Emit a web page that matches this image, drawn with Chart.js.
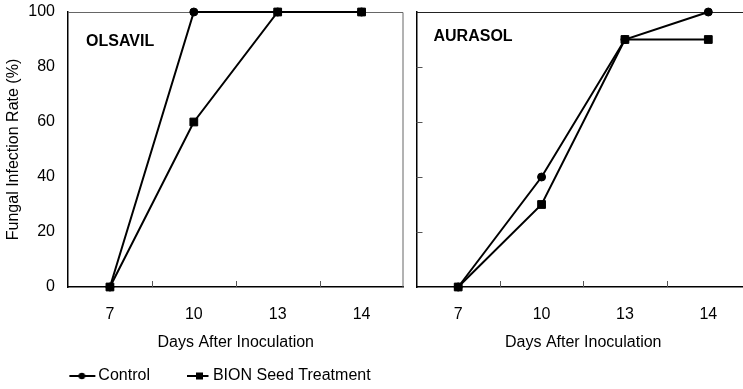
<!DOCTYPE html>
<html>
<head>
<meta charset="utf-8">
<script src="https://cdn.jsdelivr.net/npm/chart.js@4/dist/chart.umd.min.js"></script>
<style>
  html, body { margin: 0; padding: 0; background: #fff; overflow: hidden; }
  #wrap { position: relative; width: 743px; height: 389px; overflow: hidden; }
  #wrap canvas { position: absolute; top: 0; }
</style>
</head>
<body>
<div id="wrap">
  <canvas id="olsavil" width="410" height="394" style="left:0"></canvas>
  <canvas id="aurasol" width="350" height="394" style="left:410px"></canvas>
</div>
<script>
// Data
const days = ['7', '10', '13', '14'];
const olsavilControl = [0, 100, 100, 100];
const olsavilBion = [0, 60, 100, 100];
const aurasolControl = [0, 40, 90, 100];
const aurasolBion = [0, 30, 90, 90];
const yTickStep = 20;

Chart.defaults.font.family = "'Liberation Sans', Arial, sans-serif";
Chart.defaults.font.size = 16;
Chart.defaults.color = '#000';

// Small canvas used as legend symbol: line with marker in the middle
function legendSymbol(style, x0, x1, mx) {
    const c = document.createElement('canvas');
    c.width = 66;
    c.height = 12;
    const g = c.getContext('2d');
    g.strokeStyle = '#000';
    g.lineWidth = 2;
    g.beginPath();
    g.moveTo(x0, 6);
    g.lineTo(x1, 6);
    g.stroke();
    g.fillStyle = '#000';
    if (style === 'circle') {
        g.beginPath();
        g.arc(mx, 6, 3.3, 0, Math.PI * 2);
        g.fill();
    } else {
        g.fillRect(mx - 3.5, 2.5, 7, 7);
    }
    return c;
}

// Top / right frame lines of the plot area
const frameLines = {
    id: 'frameLines',
    beforeDatasetsDraw(chart, args, opts) {
        const { ctx, chartArea: a } = chart;
        ctx.save();
        ctx.strokeStyle = opts.color;
        ctx.lineWidth = 1;
        ctx.beginPath();
        ctx.moveTo(a.left, a.top + 0.5);
        ctx.lineTo(a.right - 0.5, a.top + 0.5);
        if (opts.right) ctx.lineTo(a.right - 0.5, a.bottom);
        ctx.stroke();
        ctx.restore();
    }
};

// Short inward tick marks (x between categories, optional y)
const innerTicks = {
    id: 'innerTicks',
    beforeDatasetsDraw(chart, args, opts) {
        const { ctx, chartArea: a, scales: { x, y } } = chart;
        ctx.save();
        ctx.strokeStyle = opts.color;
        ctx.lineWidth = 1;
        ctx.beginPath();
        for (let i = 1; i < x.ticks.length; i++) {
            const px = Math.round((x.getPixelForTick(i - 1) + x.getPixelForTick(i)) / 2) + 0.5;
            ctx.moveTo(px, a.bottom);
            ctx.lineTo(px, a.bottom - opts.length);
        }
        if (opts.yTicks) {
            y.ticks.forEach(t => {
                if (t.value > y.min && t.value < y.max) {
                    const py = Math.round(y.getPixelForValue(t.value)) + 0.5;
                    ctx.moveTo(a.left, py);
                    ctx.lineTo(a.left + opts.length, py);
                }
            });
        }
        ctx.stroke();
        ctx.restore();
    }
};

// Bold cultivar name inside the plot
const panelLabel = {
    id: 'panelLabel',
    afterDatasetsDraw(chart, args, opts) {
        const { ctx, chartArea: a } = chart;
        ctx.save();
        ctx.font = "bold 16px 'Liberation Sans', Arial, sans-serif";
        ctx.fillStyle = '#000';
        ctx.textBaseline = 'middle';
        ctx.fillText(opts.text, a.left + opts.dx, a.top + opts.dy);
        ctx.restore();
    }
};

function makePanel(canvasId, name, control, bion, cfg) {
    const ctx = document.getElementById(canvasId);
    return new Chart(ctx, {
        type: 'line',
        data: {
            labels: days,
            datasets: [{
                label: 'Control',
                data: control,
                borderColor: '#000',
                backgroundColor: '#000',
                borderWidth: 2,
                pointStyle: 'circle',
                pointRadius: 4,
                pointBorderWidth: 1,
                legendSymbol: legendSymbol('circle', 39, 65, 51.5),
                order: 1
            }, {
                label: 'BION Seed Treatment',
                data: bion,
                borderColor: '#000',
                backgroundColor: '#000',
                borderWidth: 2,
                pointStyle: 'rect',
                pointRadius: 5.5,
                pointBorderWidth: 1,
                legendSymbol: legendSymbol('rect', 42, 63.5, 54.5),
                order: 0
            }]
        },
        options: {
            responsive: false,
            animation: false,
            clip: false,
            elements: { line: { tension: 0 } },
            layout: { padding: cfg.padding },
            plugins: {
                tooltip: { enabled: false },
                legend: {
                    display: cfg.legend,
                    position: 'bottom',
                    align: 'center',
                    labels: {
                        usePointStyle: true,
                        pointStyleWidth: 54,
                        padding: 1,
                        color: '#000',
                        sort: (a, b) => a.datasetIndex - b.datasetIndex,
                        generateLabels(chart) {
                            return Chart.defaults.plugins.legend.labels.generateLabels(chart).map(item => {
                                item.pointStyle = chart.data.datasets[item.datasetIndex].legendSymbol;
                                return item;
                            });
                        }
                    }
                },
                frameLines: { color: cfg.frameColor, right: cfg.frameRight },
                innerTicks: { color: '#555', length: 6, yTicks: cfg.yTicks },
                panelLabel: { text: name, dx: cfg.labelDx, dy: cfg.labelDy }
            },
            scales: {
                x: {
                    offset: true,
                    grid: { display: false, drawTicks: false },
                    border: { color: '#000', width: 1.5 },
                    ticks: { padding: 18, color: '#000' },
                    title: {
                        display: true,
                        text: 'Days After Inoculation',
                        color: '#000',
                        padding: { top: 0, bottom: 15 }
                    },
                    afterFit(scale) {
                        scale.height = 80;
                        scale.paddingLeft = 0;
                        scale.paddingRight = 0;
                    }
                },
                y: {
                    min: 0,
                    max: 100,
                    grid: { display: false, drawTicks: false },
                    border: { color: '#000', width: 1.5 },
                    ticks: { stepSize: yTickStep, padding: 13, display: cfg.yLabels, color: '#000' },
                    title: {
                        display: cfg.yLabels,
                        text: 'Fungal Infection Rate (%)',
                        color: '#000',
                        padding: { top: 4, bottom: 0 }
                    },
                    afterFit(scale) {
                        scale.width = cfg.yWidth;
                        scale.paddingTop = 0;
                        scale.paddingBottom = 0;
                    }
                }
            }
        },
        plugins: [frameLines, innerTicks, panelLabel]
    });
}

makePanel('olsavil', 'OLSAVIL', olsavilControl, olsavilBion, {
    padding: { top: 12, right: 3, left: 0, bottom: 0 },
    legend: true,
    yLabels: true,
    yTicks: false,
    yWidth: 68,
    frameColor: '#666',
    frameRight: true,
    labelDx: 18,
    labelDy: 30
});

makePanel('aurasol', 'AURASOL', aurasolControl, aurasolBion, {
    padding: { top: 12, right: 10, left: 0, bottom: 27 },
    legend: false,
    yLabels: false,
    yTicks: true,
    yWidth: 3,
    frameColor: '#222',
    frameRight: false,
    labelDx: 17,
    labelDy: 25
});
</script>
</body>
</html>
